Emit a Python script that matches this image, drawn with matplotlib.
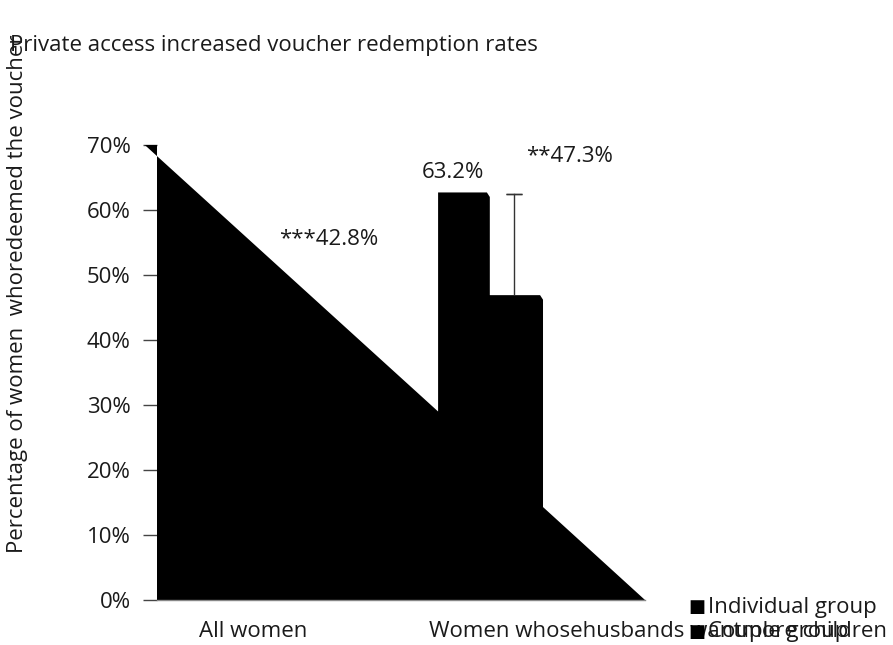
import matplotlib
matplotlib.use("Agg")
import matplotlib.pyplot as plt

plt.rcParams['font.family'] = ['Open Sans', 'DejaVu Sans']

# chart text
title = "Private access increased voucher redemption rates"
ylabel = "Percentage of women  whoredeemed the voucher"
categories = ["All women", "Women whosehusbands wantmore children"]
category_x = [19.7, 102.7]
legend_labels = ["Individual group", "Couple group"]

# outline of the filled area as it is drawn (x in axis units, y in %)
outline_x = [-2.5, 57.6, 57.6, 67.6, 68.2, 68.2, 78.5, 79.1, 79.1, 100.0, 0.0, 0.0]
outline_pct = [70.0, 29.0, 62.7, 62.7, 62.0, 46.9, 46.9, 46.2, 14.3, 0.0, 0.0, 70.0]

# error bar on the couple group
err_x = 73.2
err_low = 47.0
err_high = 62.5

# value labels
label_text = ["***42.8%", "63.2%", "**47.3%"]
label_x = [35.2, 60.7, 84.6]
label_pct = [55.4, 65.8, 68.2]

yticks = [0, 10, 20, 30, 40, 50, 60, 70]
FS = 16

fig = plt.figure(figsize=(8.93, 6.45), dpi=100)
ax = fig.add_axes([157/893, 1-600/645, 488/893, 455/645])

ax.fill(outline_x, outline_pct, color='black', lw=0, clip_on=False, zorder=2)
ax.plot([err_x, err_x], [err_low, err_high], color='#333333', lw=1, zorder=3)
ax.errorbar([err_x], [err_high], yerr=[[0], [0]], capsize=5.5, color='#333333',
            elinewidth=1, capthick=1, fmt='none', zorder=3)

for t, x, y in zip(label_text, label_x, label_pct):
    ax.text(x, y, t, ha='center', va='center', fontsize=FS, color='#1a1a1a')

ax.set_xlim(0, 100)
ax.set_ylim(0, 70)
ax.set_yticks(yticks)
ax.set_yticklabels([f"{v}%" for v in yticks], fontsize=FS, color='#1a1a1a')
ax.tick_params(axis='y', length=10, width=1, color='#444444', pad=9)
ax.set_xticks([])
for s in ['top', 'right', 'left']:
    ax.spines[s].set_visible(False)
ax.spines['bottom'].set_color('#888888')
ax.spines['bottom'].set_linewidth(1)

for c, x in zip(categories, category_x):
    ax.text(x, -4.9, c, ha='center', va='center', fontsize=FS, color='#1a1a1a',
            clip_on=False)

fig.text(10/893, 1-45/645, title, ha='left', va='center', fontsize=FS, color='#1a1a1a')
fig.text(18/893, 1-553/645, ylabel, rotation=90, ha='center', va='bottom',
         fontsize=FS, color='#1a1a1a')

fig.text(688/893, 1-607/645, "\u25a0", ha='left', va='center',
         fontsize=13, color='black', family='DejaVu Sans')
fig.text(708/893, 1-607/645, legend_labels[0], ha='left', va='center',
         fontsize=FS, color='#1a1a1a')
fig.text(688/893, 1-632/645, "\u25a0", ha='left', va='center',
         fontsize=13, color='black', family='DejaVu Sans')
fig.text(708/893, 1-632/645, legend_labels[1], ha='left', va='center',
         fontsize=FS, color='#1a1a1a')

fig.savefig("out.png", dpi=100)
